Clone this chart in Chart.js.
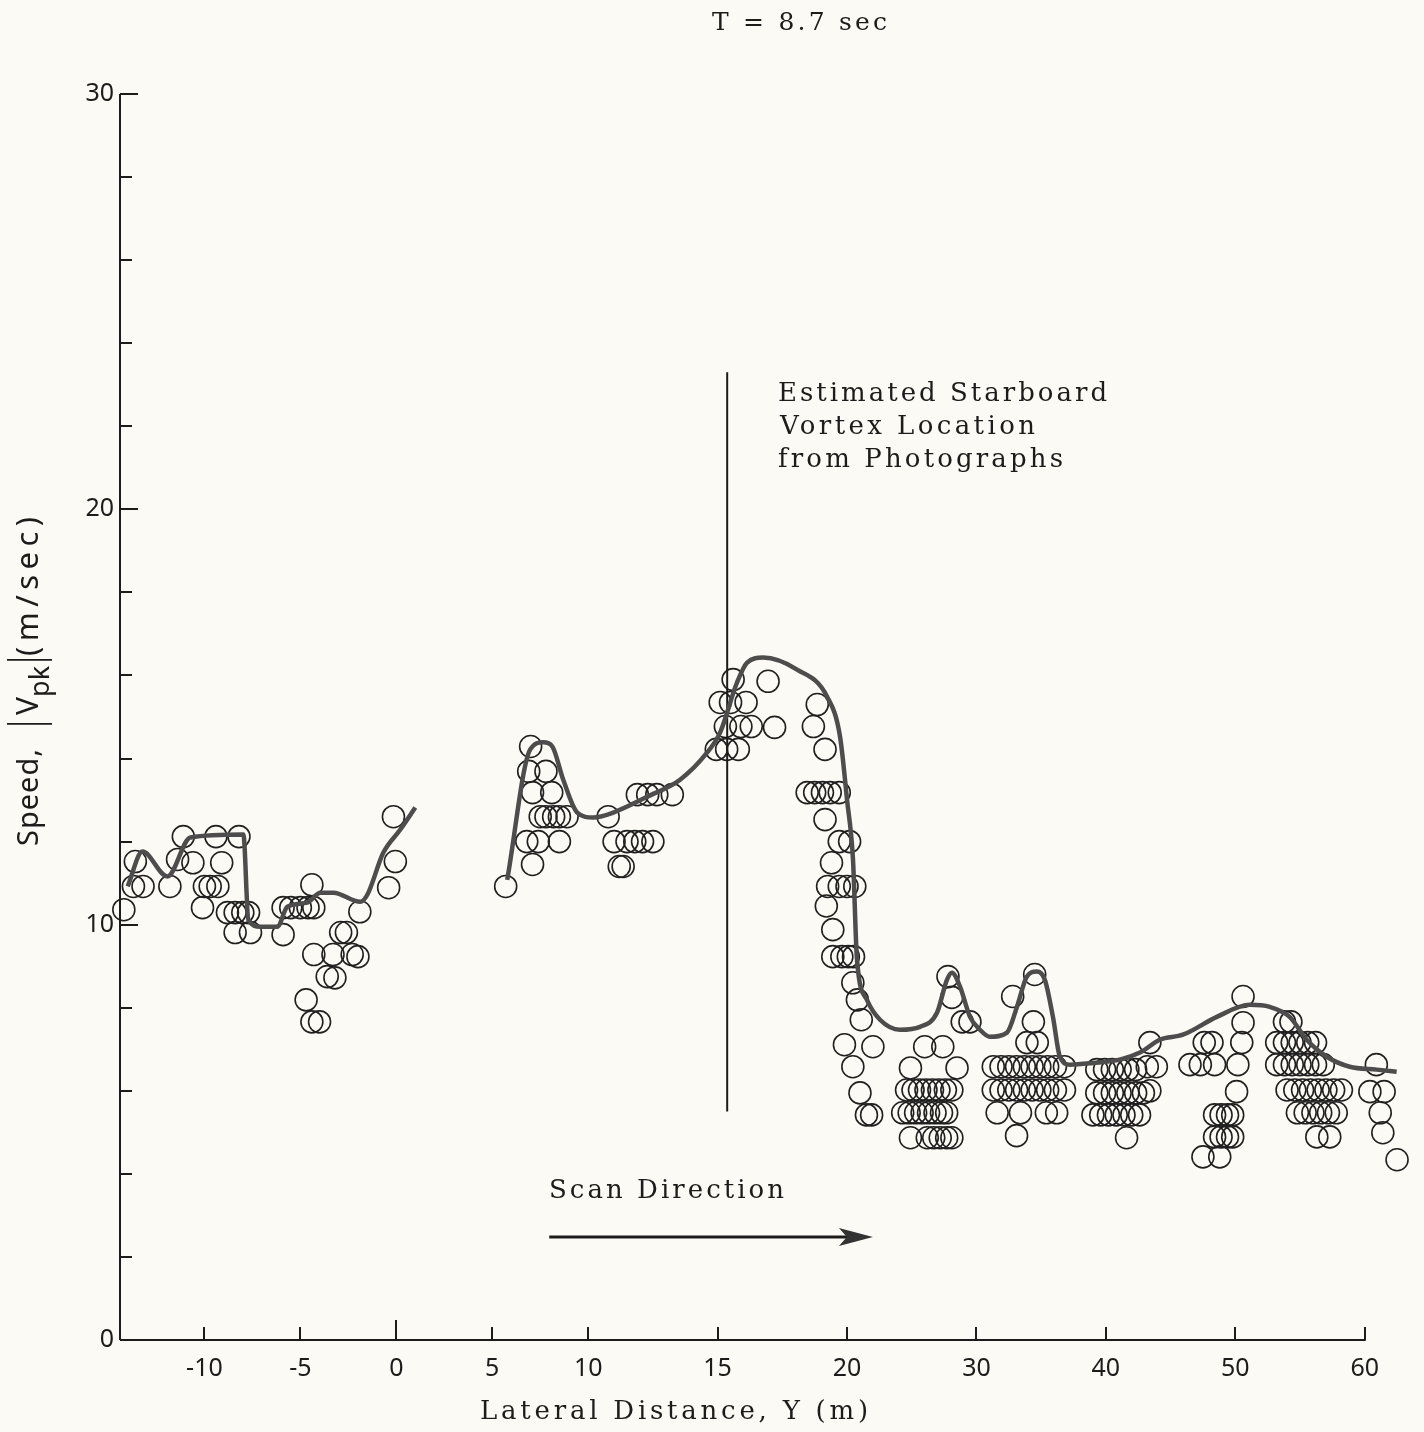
<!DOCTYPE html>
<html><head><meta charset="utf-8">
<script src="https://cdn.jsdelivr.net/npm/chart.js@4.4.1/dist/chart.umd.min.js"></script>
<style>html,body{margin:0;padding:0;background:#fbfaf4;}#wrap{width:1424px;height:1432px;position:relative}canvas{display:block}</style>
</head><body><div id="wrap"><canvas id="c" width="1424" height="1432" style="width:1424px;height:1432px"></canvas></div>
<script>
// ---------------- DATA ----------------
const xTickValues = [-10, -5, 0, 5, 10, 15, 20, 30, 40, 50, 60];
const yTickLabels = [0, 10, 20, 30];

// measured points, left group (Y < 2 m)
const leftX = [-14.2,-13.7,-13.2,-13.6,-11.8,-11.1,-11.4,-10.6,-9.4,-9.1,-8.2,-10.0,-9.7,-9.3,-10.1,-8.8,-8.4,-8.0,-7.7,-8.4,-7.6,-5.9,-5.9,-5.5,-5.0,-4.6,-4.3,-4.4,-1.9,-0.15,-0.05,-0.4,-2.9,-2.6,-4.3,-3.3,-2.3,-2.0,-3.6,-3.2,-4.7,-4.4,-4.0];
const leftY = [10.36,10.92,10.92,11.52,10.92,12.12,11.57,11.49,12.12,11.49,12.12,10.92,10.92,10.92,10.41,10.29,10.29,10.29,10.29,9.81,9.81,9.76,10.41,10.41,10.41,10.41,10.41,10.96,10.31,12.6,11.52,10.89,9.81,9.81,9.28,9.28,9.28,9.23,8.75,8.72,8.19,7.66,7.66];

// measured points, middle group (5 - 22 m)
const midX = [5.7,7.0,6.9,7.8,7.1,8.1,7.5,7.8,8.2,8.5,8.9,6.8,7.4,8.5,7.1,10.77,11.0,11.5,11.8,12.1,12.5,11.2,11.35,11.9,12.3,12.65,13.25,15.6,15.1,15.5,16.1,15.3,15.9,16.3,14.95,15.35,15.8,16.95,17.2,18.85,18.7,19.15,18.46,18.75,19.05,19.35,19.7,19.15,19.7,20.2,19.4,19.25,19.7,20.0,20.6,19.2,19.45,19.45,19.8,20.1,20.5,20.45,20.8,21.1,19.9,22.0,20.45,21.0,21.5,21.9];
const midY = [10.92,14.29,13.69,13.69,13.18,13.18,12.6,12.6,12.6,12.6,12.6,12.0,12.0,12.0,11.45,12.6,12.0,12.0,12.0,12.0,12.0,11.4,11.4,13.13,13.13,13.13,13.13,15.9,15.35,15.35,15.35,14.77,14.77,14.77,14.22,14.22,14.22,15.86,14.75,15.3,14.77,14.22,13.18,13.18,13.18,13.18,13.18,12.53,12.0,12.0,11.49,10.92,10.92,10.92,10.92,10.45,9.88,9.23,9.23,9.23,9.23,8.6,8.19,7.71,7.11,7.06,6.58,5.95,5.42,5.42];

// measured points, right group (24 - 63 m)
const rightX = [27.8,28.1,28.9,29.5,26.0,27.4,28.5,24.9,
  24.6,25.1,25.6,26.1,26.6,27.1,27.6,28.1,
  24.3,24.8,25.3,25.8,26.3,26.8,27.3,27.7,
  24.9,26.2,26.7,27.2,27.7,28.1,
  32.8,34.5,34.4,33.9,34.7,
  31.3,31.9,32.5,33.1,33.7,34.3,34.9,35.5,36.1,36.8,
  31.3,31.9,32.5,33.1,33.7,34.3,34.9,35.5,36.1,36.8,
  31.6,33.4,35.4,36.2,33.1,
  39.3,39.9,40.5,41.1,41.7,42.3,
  39.3,39.9,40.5,41.1,41.7,42.3,42.9,
  39.0,39.6,40.2,40.8,41.4,42.0,42.6,
  41.6,43.4,43.2,43.9,43.4,
  50.6,50.6,50.5,50.2,50.1,
  48.4,48.9,49.4,49.8,48.4,48.9,49.4,49.8,
  47.5,48.8,47.6,48.2,46.5,47.3,48.4,
  53.8,54.3,
  53.2,53.8,54.4,55.0,55.6,56.2,
  53.2,53.8,54.4,55.0,55.6,56.2,56.8,
  54.0,54.6,55.2,55.8,56.4,57.0,57.6,58.2,
  54.8,55.4,56.0,56.6,57.2,57.8,
  56.3,57.3,
  60.9,60.4,61.5,61.2,61.4,62.5];
const rightY = [8.75,8.25,7.66,7.66,7.06,7.06,6.55,6.55,
  6.02,6.02,6.02,6.02,6.02,6.02,6.02,6.02,
  5.47,5.47,5.47,5.47,5.47,5.47,5.47,5.47,
  4.87,4.87,4.87,4.87,4.87,4.87,
  8.27,8.8,7.66,7.16,7.16,
  6.58,6.58,6.58,6.58,6.58,6.58,6.58,6.58,6.58,6.58,
  6.02,6.02,6.02,6.02,6.02,6.02,6.02,6.02,6.02,6.02,
  5.47,5.47,5.47,5.47,4.92,
  6.51,6.51,6.51,6.51,6.51,6.51,
  5.95,5.95,5.95,5.95,5.95,5.95,5.95,
  5.42,5.42,5.42,5.42,5.42,5.42,5.42,
  4.87,7.16,6.58,6.58,6.0,
  8.27,7.64,7.16,6.63,5.98,
  5.42,5.42,5.42,5.42,4.89,4.89,4.89,4.89,
  4.41,4.41,7.16,7.16,6.63,6.63,6.63,
  7.66,7.66,
  7.16,7.16,7.16,7.16,7.16,7.16,
  6.63,6.63,6.63,6.63,6.63,6.63,6.63,
  6.02,6.02,6.02,6.02,6.02,6.02,6.02,6.02,
  5.47,5.47,5.47,5.47,5.47,5.47,
  4.89,4.89,
  6.63,5.98,5.98,5.47,4.99,4.34];

// faired curves
const curve1X = [-14.0,-13.23,-11.93,-10.73,-7.97,-7.71,-7.08,-6.2,-5.68,-4.64,-3.96,-3.28,-1.88,-1.51,-0.68,0.21,0.99];
const curve1Y = [10.92,11.76,11.16,12.1,12.17,10.12,9.95,9.95,10.43,10.53,10.77,10.77,10.55,10.72,11.73,12.29,12.82];
const curve2X = [5.78,6.98,7.66,8.13,8.7,9.43,10.19,10.97,12.28,13.55,14.59,15.1,15.75,16.14,16.76,18.07,19.23,19.73,20.0,20.46,20.77,21.54,22.55,24.09,25.64,26.95,27.72,28.11,28.73,29.5,30.27,31.04,32.36,33.13,33.9,34.67,35.29,35.91,36.45,37.22,39.0,41.08,42.63,44.17,45.95,48.57,51.12,52.66,54.2,55.52,57.07,58.84,60.93,62.47];
const curve2Y = [11.08,14.22,14.39,14.29,13.49,12.7,12.58,12.7,13.08,13.49,14.14,14.63,15.83,16.31,16.43,16.14,15.49,14.53,13.01,11.57,9.16,8.19,7.71,7.47,7.54,7.88,8.67,8.84,8.51,7.78,7.47,7.30,7.40,8.02,8.75,8.87,8.67,7.78,6.82,6.63,6.67,6.75,6.92,7.23,7.35,7.78,8.07,8.02,7.78,7.23,6.82,6.58,6.51,6.46];

// annotations
const vortexX = [15.37, 15.37];
const vortexY = [23.3, 5.5];
const arrowX = [7.97, 22.0];
const arrowY = [2.48, 2.48];

// ---------------- STYLE ----------------
const INK = '#1c1c1c';
const PAPER = '#fbfaf4';
const SERIF = '"DejaVu Serif", serif';
const SANS = '"Noto Sans", sans-serif';

// piecewise x axis (the original axis is drawn with three different scales)
const SEG_BREAKS = [10, 20];
const SEG_WEIGHTS = [19.2, 25.9, 12.95];
class PiecewiseScale extends Chart.LinearScale {
  _f(v) {
    const [b1, b2] = SEG_BREAKS, [w0, w1, w2] = SEG_WEIGHTS;
    return w0 * (Math.min(v, b1) - this.min) + w1 * (Math.min(Math.max(v, b1), b2) - b1) + w2 * (Math.max(v, b2) - b2);
  }
  getPixelForValue(v) {
    if (v === null || v === undefined || isNaN(v)) return NaN;
    return this.getPixelForDecimal(this._f(v) / this._f(this.max));
  }
  getValueForPixel(p) {
    const target = this.getDecimalForPixel(p) * this._f(this.max);
    let lo = this.min - 100, hi = this.max + 100;
    for (let i = 0; i < 60; i++) { const m = (lo + hi) / 2; if (this._f(m) < target) lo = m; else hi = m; }
    return (lo + hi) / 2;
  }
}
PiecewiseScale.id = 'piecewise';
PiecewiseScale.defaults = Chart.LinearScale.defaults;
Chart.register(PiecewiseScale);

const zip = (xs, ys) => xs.map((x, i) => ({ x, y: ys[i] }));

function fitText(ctx, text, x, y, font, width, baseline) {
  ctx.font = font;
  ctx.letterSpacing = '0px';
  const w = ctx.measureText(text).width;
  const ls = text.length > 1 ? (width - w) / (text.length - 1) : 0;
  ctx.letterSpacing = ls.toFixed(2) + 'px';
  ctx.textAlign = 'left';
  ctx.textBaseline = baseline || 'middle';
  ctx.fillText(text, x, y);
  ctx.letterSpacing = '0px';
  return width;
}

const decorations = {
  id: 'decorations',
  beforeDraw(chart) {
    const c = chart.ctx;
    c.save(); c.fillStyle = PAPER; c.fillRect(0, 0, chart.width, chart.height); c.restore();
  },
  afterDraw(chart) {
    const { ctx, scales: { x, y } } = chart;
    const x0 = chart.chartArea.left, y0 = y.getPixelForValue(0);
    ctx.save();
    ctx.strokeStyle = INK; ctx.fillStyle = INK; ctx.lineWidth = 2; ctx.lineCap = 'butt';
    // y axis and inward ticks
    ctx.beginPath();
    ctx.moveTo(x0, y.getPixelForValue(30)); ctx.lineTo(x0, y0);
    for (let v = 2; v <= 30; v += 2) {
      const py = Math.round(y.getPixelForValue(v));
      ctx.moveTo(x0, py); ctx.lineTo(x0 + (v % 10 === 0 ? 18 : 12), py);
    }
    // x axis and inward ticks
    const xEnd = x.getPixelForValue(60);
    ctx.moveTo(x0, y0); ctx.lineTo(xEnd + 1, y0);
    xTickValues.forEach(v => {
      const px = Math.round(x.getPixelForValue(v));
      ctx.moveTo(px, y0); ctx.lineTo(px, y0 - (v === 0 ? 20 : 13));
    });
    ctx.stroke();

    // scan direction arrow
    const ax0 = x.getPixelForValue(arrowX[0]), ax1 = x.getPixelForValue(arrowX[1]);
    const ay = y.getPixelForValue(arrowY[0]);
    ctx.lineWidth = 3;
    ctx.beginPath(); ctx.moveTo(ax0, ay); ctx.lineTo(ax1 - 20, ay); ctx.stroke();
    ctx.fillStyle = '#333';
    ctx.beginPath(); ctx.moveTo(ax1, ay); ctx.lineTo(ax1 - 34, ay - 9); ctx.lineTo(ax1 - 26, ay); ctx.lineTo(ax1 - 34, ay + 9); ctx.closePath(); ctx.fill();

    // texts
    ctx.fillStyle = INK;
    fitText(ctx, 'T = 8.7 sec', 712, 23, '25px ' + SERIF, 175);
    fitText(ctx, 'Estimated Starboard', 778, 394, '26px ' + SERIF, 329);
    fitText(ctx, 'Vortex Location', 780, 427, '26px ' + SERIF, 255);
    fitText(ctx, 'from Photographs', 778, 460, '26px ' + SERIF, 285);
    fitText(ctx, 'Scan Direction', 549, 1191, '26px ' + SERIF, 235);
    fitText(ctx, 'Lateral Distance, Y (m)', 480, 1412, '26px ' + SERIF, 388);

    // y axis title, rotated, with subscript (local x runs upward from y=846)
    ctx.save();
    ctx.translate(38, 846);
    ctx.rotate(-Math.PI / 2);
    ctx.fillStyle = INK; ctx.textAlign = 'left'; ctx.textBaseline = 'alphabetic';
    ctx.font = '29px ' + SANS; ctx.letterSpacing = '1px';
    ctx.fillText('Speed,', 0, 0);
    let cx = ctx.measureText('Speed,').width;
    ctx.letterSpacing = '0px';
    cx += 24;
    ctx.lineWidth = 1.8;
    ctx.beginPath(); ctx.moveTo(cx, -31); ctx.lineTo(cx, 14); ctx.stroke();
    cx += 9;
    ctx.font = '30px ' + SANS;
    ctx.fillText('V', cx, 0); cx += ctx.measureText('V').width;
    ctx.font = '27px ' + SANS;
    ctx.fillText('pk', cx, 11); cx += ctx.measureText('pk').width;
    cx += 6;
    ctx.beginPath(); ctx.moveTo(cx, -31); ctx.lineTo(cx, 14); ctx.stroke();
    cx += 4;
    fitText(ctx, '(m/sec)', cx, 0, '31px ' + SANS, Math.max(90, 329 - cx), 'alphabetic');
    ctx.restore();

    ctx.restore();
  }
};

const circleStyle = {
  showLine: false, pointRadius: 11, pointHoverRadius: 11, pointBorderWidth: 1.6,
  pointBorderColor: '#202020', pointBackgroundColor: 'rgba(0,0,0,0)', clip: false, order: 2
};
const curveStyle = {
  showLine: true, pointRadius: 0, borderColor: '#4d4d4d', borderWidth: 4.5,
  cubicInterpolationMode: 'monotone', clip: false, order: 0, fill: false
};

new Chart(document.getElementById('c'), {
  type: 'scatter',
  data: {
    datasets: [
      Object.assign({ label: 'curve1', data: zip(curve1X, curve1Y) }, curveStyle),
      Object.assign({ label: 'curve2', data: zip(curve2X, curve2Y) }, curveStyle),
      Object.assign({ label: 'vortex', data: zip(vortexX, vortexY), showLine: true, pointRadius: 0, borderColor: INK, borderWidth: 2, clip: false, order: 1 }),
      Object.assign({ label: 'left', data: zip(leftX, leftY) }, circleStyle),
      Object.assign({ label: 'mid', data: zip(midX, midY) }, circleStyle),
      Object.assign({ label: 'right', data: zip(rightX, rightY) }, circleStyle)
    ]
  },
  options: {
    responsive: false, animation: false, events: [],
    layout: { padding: { top: 94, right: 14, left: 0, bottom: 0 }, autoPadding: false },
    plugins: { legend: { display: false }, tooltip: { enabled: false }, title: { display: false } },
    scales: {
      x: {
        type: 'piecewise', min: -14.4, max: 63.5,
        grid: { display: false, drawTicks: false }, border: { display: false },
        afterBuildTicks: s => { s.ticks = xTickValues.map(v => ({ value: v })); },
        afterFit: s => { s.height = 92; },
        ticks: { autoSkip: false, maxRotation: 0, padding: 14, color: INK, font: { family: SANS, size: 25 }, callback: v => String(v) }
      },
      y: {
        type: 'linear', min: 0, max: 30,
        grid: { display: false, drawTicks: false }, border: { display: false },
        afterBuildTicks: s => { s.ticks = yTickLabels.map(v => ({ value: v })); },
        afterFit: s => { s.width = 120; },
        ticks: { padding: 6, color: INK, font: { family: SANS, size: 25 }, callback: v => String(v) }
      }
    }
  },
  plugins: [decorations]
});
</script></body></html>
